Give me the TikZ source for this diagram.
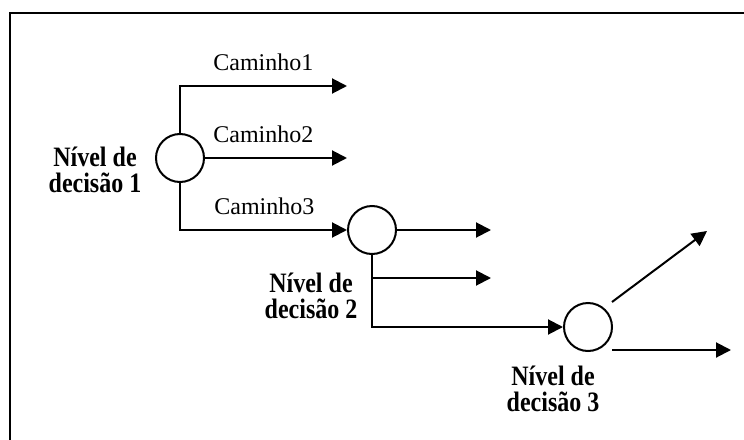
\documentclass[tikz,border=0pt]{standalone}
\usepackage{fontspec}
\usepackage{graphicx}
\setmainfont{Liberation Serif}
\usetikzlibrary{arrows.meta}
\newcommand{\tallbf}[1]{\scalebox{1}[1.17]{#1}}
\begin{document}
\begin{tikzpicture}[x=0.5pt,y=-0.5pt,
  conn/.style={line width=1pt},
  arr/.style={line width=1pt,-{Triangle[length=7.5pt,width=7.5pt]}},
  dec/.style={circle,draw,line width=1pt,minimum size=24pt,inner sep=0pt},
  path/.style={font=\fontsize{12pt}{12.8pt}\selectfont,inner sep=0pt,anchor=base west},
  lvl/.style={font=\fontsize{12pt}{12.6pt}\selectfont\bfseries,inner sep=0pt,anchor=north,align=center}]
\useasboundingbox (0,0) rectangle (744,439);
% frame
\draw[line width=1.1pt] (10,445) -- (10,13) -- (750,13);
% decision nodes
\node[dec] (c1) at (180,158) {};
\node[dec] (c2) at (372,230) {};
\node[dec] (c3) at (588,327) {};
% free ends
\coordinate (e1) at (347,86);
\coordinate (e2) at (347,158);
\coordinate (e3) at (491,230);
\coordinate (b2) at (372,278);
\coordinate (e4) at (491,278);
\coordinate (s1) at (612,302);
\coordinate (e5) at (707,231);
\coordinate (s2) at (612,350);
\coordinate (e6) at (731,350);
% connectors
\draw[arr] (c1.north) |- (e1);
\draw[arr] (c1.east) -- (e2);
\draw[arr] (c1.south) |- (c2.west);
\draw[arr] (c2.east) -- (e3);
\draw[arr] (c2.south) |- (c3.west);
\draw[arr] (b2) -- (e4);
\draw[arr] (s1) -- (e5);
\draw[arr] (s2) -- (e6);
% labels
\node[path] (t1) at (213,70) {Caminho1};
\node[path] (t2) at (213,142) {Caminho2};
\node[path] (t3) at (214,214) {Caminho3};
\node[lvl] (l1) at (95,147) {\tallbf{Nível de}\\\tallbf{decisão 1}};
\node[lvl] (l2) at (311,273) {\tallbf{Nível de}\\\tallbf{decisão 2}};
\node[lvl] (l3) at (553,366) {\tallbf{Nível de}\\\tallbf{decisão 3}};
\end{tikzpicture}
\end{document}
